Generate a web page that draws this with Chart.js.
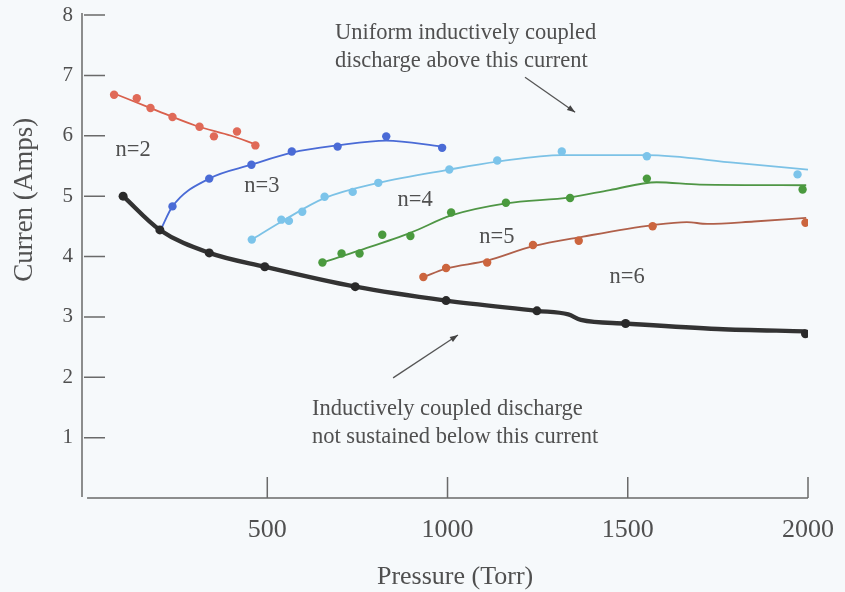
<!DOCTYPE html>
<html>
<head>
<meta charset="utf-8">
<script src="https://cdn.jsdelivr.net/npm/chart.js@4/dist/chart.umd.min.js"></script>
<style>
  html, body { margin: 0; padding: 0; background: #f6f9fb; }
  #wrap { width: 845px; height: 592px; }
</style>
</head>
<body>
<div id="wrap"><canvas id="c" width="845" height="592"></canvas></div>
<script>
// ---- Data: pressure (Torr) vs. current (Amps) ----
// Boundary curve: discharge not sustained below this current
const boundaryP = [100, 202, 339, 493, 744, 996, 1248, 1494, 1993];
const boundaryI = [5.00, 4.44, 4.06, 3.83, 3.50, 3.27, 3.10, 2.89, 2.72];
const boundaryLineP = [100, 202, 339, 493, 744, 996, 1248, 1335, 1370, 1494, 1750, 1993];
const boundaryLineI = [5.00, 4.44, 4.06, 3.83, 3.50, 3.27, 3.10, 3.04, 2.95, 2.89, 2.80, 2.76];

// Mode n=2
const n2P = [75, 138, 176, 237, 312, 352, 416, 467];
const n2I = [6.68, 6.62, 6.46, 6.31, 6.15, 5.99, 6.07, 5.84];
const n2LineP = [75, 180, 300, 400, 467];
const n2LineI = [6.70, 6.45, 6.17, 6.00, 5.86];

// Mode n=3
const n3P = [237, 339, 456, 568, 695, 830, 985];
const n3I = [4.83, 5.29, 5.52, 5.74, 5.82, 5.99, 5.80];
const n3LineP = [205, 237, 339, 456, 568, 695, 830, 985];
const n3LineI = [4.45, 4.83, 5.29, 5.52, 5.72, 5.84, 5.92, 5.82];

// Mode n=4
const n4P = [457, 539, 560, 597, 659, 737, 808, 1005, 1138, 1317, 1553, 1971];
const n4I = [4.28, 4.61, 4.59, 4.74, 4.99, 5.07, 5.22, 5.44, 5.59, 5.74, 5.66, 5.36];
const n4LineP = [457, 540, 660, 808, 1005, 1138, 1317, 1553, 1800, 2000];
const n4LineI = [4.28, 4.58, 4.97, 5.22, 5.44, 5.57, 5.68, 5.68, 5.55, 5.44];

// Mode n=5
const n5P = [653, 706, 756, 819, 897, 1010, 1162, 1340, 1553, 1985];
const n5I = [3.90, 4.05, 4.05, 4.36, 4.34, 4.73, 4.89, 4.97, 5.29, 5.11];
const n5LineP = [653, 756, 900, 1010, 1162, 1340, 1450, 1580, 1700, 1995];
const n5LineI = [3.90, 4.10, 4.40, 4.68, 4.88, 4.98, 5.10, 5.23, 5.19, 5.18];

// Mode n=6
const n6P = [933, 996, 1110, 1237, 1364, 1569, 1993];
const n6I = [3.66, 3.81, 3.90, 4.19, 4.26, 4.50, 4.56];
const n6LineP = [933, 996, 1110, 1237, 1376, 1570, 1664, 1720, 1850, 1995];
const n6LineI = [3.66, 3.80, 3.93, 4.17, 4.33, 4.52, 4.57, 4.54, 4.58, 4.64];

// Axis ticks
const xTickValues = [500, 1000, 1500, 2000];
const yTickValues = [1, 2, 3, 4, 5, 6, 7, 8];

// Text labels
const xTitle = "Pressure (Torr)";
const yTitle = "Curren (Amps)";
const modeLabels = ["n=2", "n=3", "n=4", "n=5", "n=6"];
const upperNote = ["Uniform inductively coupled", "discharge above this current"];
const lowerNote = ["Inductively coupled discharge", "not sustained below this current"];

// ---- Styling ----
const TEXT = "#505050";
const SERIF = "'Liberation Serif', 'DejaVu Serif', serif";

const pts = (xs, ys) => xs.map((x, i) => ({ x, y: ys[i] }));

function lineSet(xs, ys, color, width) {
  return {
    data: pts(xs, ys), borderColor: color, borderWidth: width,
    pointRadius: 0, showLine: true, fill: false,
    cubicInterpolationMode: 'monotone', order: 2
  };
}
function markSet(xs, ys, color, r) {
  return {
    data: pts(xs, ys), showLine: false, pointRadius: r,
    pointBackgroundColor: color, pointBorderColor: color, pointBorderWidth: 0,
    order: 1
  };
}

// Annotation placement (data coordinates)
const notes = [
  { lines: [modeLabels[0]], x: 128, y: 5.76, align: 'center' },
  { lines: [modeLabels[1]], x: 485, y: 5.17, align: 'center' },
  { lines: [modeLabels[2]], x: 910, y: 4.94, align: 'center' },
  { lines: [modeLabels[3]], x: 1137, y: 4.32, align: 'center' },
  { lines: [modeLabels[4]], x: 1498, y: 3.66, align: 'center' },
  { lines: upperNote, x: 688, y: 7.70, align: 'left' },
  { lines: lowerNote, x: 624, y: 1.47, align: 'left' }
];
const arrows = [
  { from: [1215, 6.97], to: [1354, 6.39] },
  { from: [849, 1.99], to: [1029, 2.70] }
];

const frame = {
  id: 'frame',
  afterDatasetsDraw(chart) {
    const { ctx, scales: { x, y } } = chart;
    ctx.save();
    ctx.strokeStyle = '#6a6a6a';
    ctx.lineWidth = 1.5;
    // axis lines
    const y0 = y.getPixelForValue(0);
    const yTop = y.getPixelForValue(8);
    const xLeft = x.left;
    ctx.beginPath();
    ctx.moveTo(xLeft, yTop - 2); ctx.lineTo(xLeft, y0 - 1);
    ctx.moveTo(x.getPixelForValue(0), y0); ctx.lineTo(x.getPixelForValue(2000), y0);
    ctx.stroke();
    // inward tick marks
    ctx.beginPath();
    yTickValues.forEach(v => {
      const py = y.getPixelForValue(v);
      ctx.moveTo(xLeft + 2, py); ctx.lineTo(xLeft + 23, py);
    });
    xTickValues.forEach(v => {
      const px = x.getPixelForValue(v);
      ctx.moveTo(px, y0); ctx.lineTo(px, y0 - 21);
    });
    ctx.stroke();

    // axis titles
    ctx.fillStyle = TEXT;
    ctx.textAlign = 'center';
    ctx.textBaseline = 'middle';
    ctx.font = '26px ' + SERIF;
    ctx.fillText(xTitle, x.getPixelForValue(1021), y0 + 79);
    ctx.save();
    ctx.translate(25, y.getPixelForValue(4.94));
    ctx.rotate(-Math.PI / 2);
    ctx.font = '27px ' + SERIF;
    ctx.fillText(yTitle, 0, 0);
    ctx.restore();

    // text notes
    ctx.font = '22.5px ' + SERIF;
    notes.forEach(n => {
      ctx.textAlign = n.align;
      const px = x.getPixelForValue(n.x);
      const py = y.getPixelForValue(n.y);
      n.lines.forEach((t, i) => ctx.fillText(t, px, py + i * 28));
    });

    // arrows
    ctx.strokeStyle = '#555';
    ctx.fillStyle = '#444';
    ctx.lineWidth = 1.3;
    arrows.forEach(a => {
      const x1 = x.getPixelForValue(a.from[0]), y1 = y.getPixelForValue(a.from[1]);
      const x2 = x.getPixelForValue(a.to[0]), y2 = y.getPixelForValue(a.to[1]);
      const ang = Math.atan2(y2 - y1, x2 - x1);
      ctx.beginPath(); ctx.moveTo(x1, y1); ctx.lineTo(x2, y2); ctx.stroke();
      const L = 8, W = 3;
      ctx.beginPath();
      ctx.moveTo(x2, y2);
      ctx.lineTo(x2 - L * Math.cos(ang) + W * Math.sin(ang), y2 - L * Math.sin(ang) - W * Math.cos(ang));
      ctx.lineTo(x2 - L * Math.cos(ang) - W * Math.sin(ang), y2 - L * Math.sin(ang) + W * Math.cos(ang));
      ctx.closePath(); ctx.fill();
    });
    ctx.restore();
  }
};

new Chart(document.getElementById('c'), {
  type: 'scatter',
  data: {
    datasets: [
      lineSet(n2LineP, n2LineI, '#d9604c', 1.8),
      markSet(n2P, n2I, '#e06a58', 4.2),
      lineSet(n3LineP, n3LineI, '#4a6bd6', 1.8),
      markSet(n3P, n3I, '#4a6bd6', 4.2),
      lineSet(n4LineP, n4LineI, '#7cc2e6', 1.8),
      markSet(n4P, n4I, '#7cc4ea', 4.2),
      lineSet(n5LineP, n5LineI, '#4f9645', 1.8),
      markSet(n5P, n5I, '#4a9a3e', 4.2),
      lineSet(n6LineP, n6LineI, '#b0604a', 1.8),
      markSet(n6P, n6I, '#cc653e', 4.2),
      lineSet(boundaryLineP, boundaryLineI, '#333333', 4.4),
      markSet(boundaryP, boundaryI, '#2a2a2a', 4.5)
    ]
  },
  options: {
    responsive: false,
    animation: false,
    layout: { padding: { top: 15, right: 37, left: 0, bottom: 0 } },
    plugins: { legend: { display: false }, tooltip: { enabled: false } },
    scales: {
      x: {
        type: 'linear', min: -14, max: 2000,
        afterBuildTicks: s => { s.ticks = xTickValues.map(v => ({ value: v })); },
        afterFit: s => { s.height = 94; s.paddingLeft = 0; s.paddingRight = 0; },
        grid: { display: false, drawTicks: false },
        border: { display: false },
        ticks: { color: TEXT, font: { family: SERIF, size: 26 }, padding: 17, maxRotation: 0,
                 callback: v => String(v) },
        title: { display: false }
      },
      y: {
        type: 'linear', min: 0, max: 8,
        afterBuildTicks: s => { s.ticks = yTickValues.map(v => ({ value: v })); },
        afterFit: s => { s.width = 82; s.paddingTop = 0; s.paddingBottom = 0; },
        grid: { display: false, drawTicks: false },
        border: { display: false },
        ticks: { color: TEXT, font: { family: SERIF, size: 21 }, padding: 9,
                 callback: v => String(v) },
        title: { display: false }
      }
    }
  },
  plugins: [frame]
});
</script>
</body>
</html>
